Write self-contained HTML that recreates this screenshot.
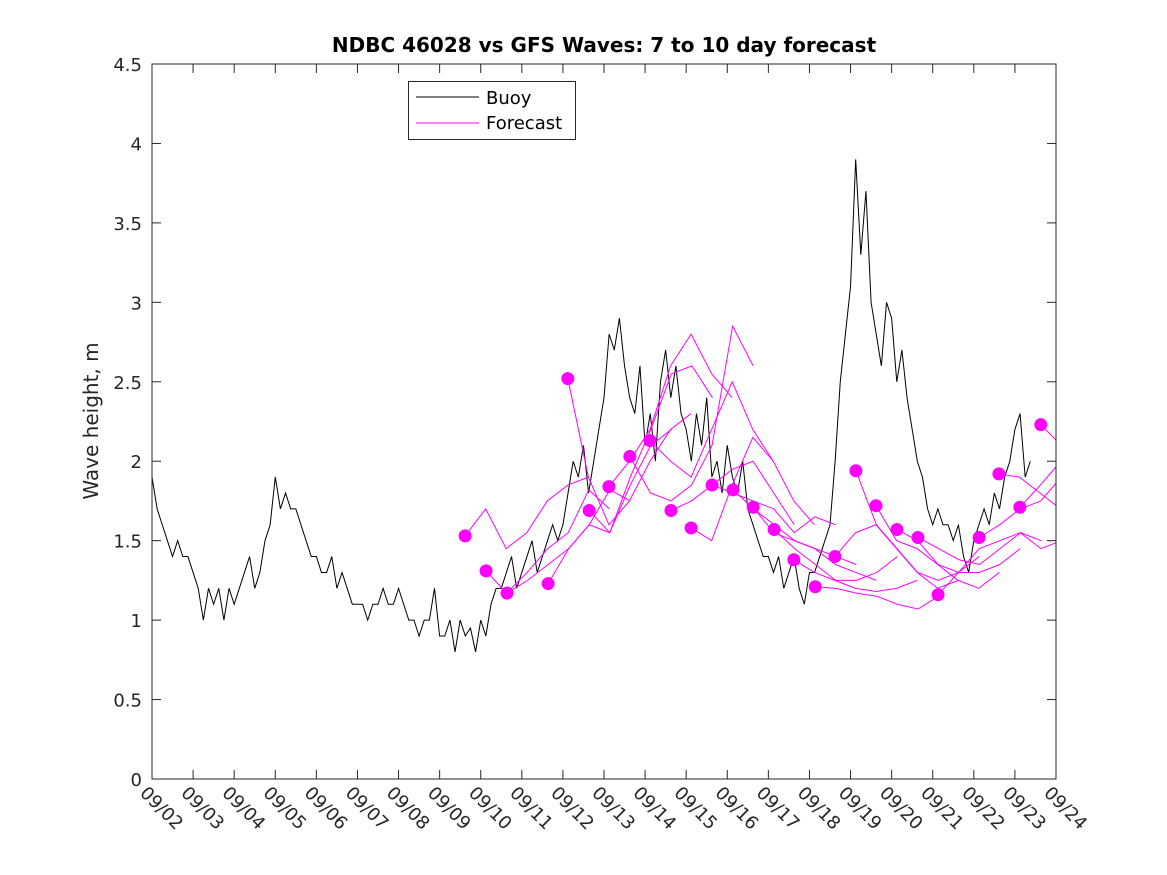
<!DOCTYPE html>
<html><head><meta charset="utf-8">
<style>
html,body{margin:0;padding:0;background:#fff;}
svg{display:block;font-family:"DejaVu Sans","Liberation Sans",sans-serif;}
</style></head>
<body>
<svg id="chart" width="1167" height="875" viewBox="0 0 1167 875" xmlns="http://www.w3.org/2000/svg">
  <rect width="1167" height="875" fill="#fff"/>
  <text x="604" y="52" text-anchor="middle" font-size="20" font-weight="bold" fill="#000">NDBC 46028 vs GFS Waves: 7 to 10 day forecast</text>
  <text transform="translate(98,421) rotate(-90)" text-anchor="middle" font-size="20" fill="#262626">Wave height, m</text>
  <defs><clipPath id="plotclip"><rect x="152" y="64" width="904" height="715"/></clipPath></defs>
  <g id="axes"></g>
  <g id="series" clip-path="url(#plotclip)"></g>
  <rect x="152" y="64" width="904" height="715" fill="none" stroke="#262626" stroke-width="1"/>
  <g>
    <rect x="408.5" y="81.5" width="167" height="58" fill="#fff" stroke="#262626" stroke-width="1"/>
    <line x1="416" y1="97" x2="479" y2="97" stroke="#000" stroke-width="1"/>
    <text x="486" y="104" font-size="18" fill="#000">Buoy</text>
    <line x1="416" y1="123" x2="479" y2="123" stroke="#ff00ff" stroke-width="1"/>
    <text x="486" y="129" font-size="18" fill="#000">Forecast</text>
  </g>
</svg>
<script>
const yTicks = [0,0.5,1,1.5,2,2.5,3,3.5,4,4.5];
const yTickLabels = ["0","0.5","1","1.5","2","2.5","3","3.5","4","4.5"];
const xTickLabels = ["09/02","09/03","09/04","09/05","09/06","09/07","09/08","09/09","09/10","09/11","09/12","09/13","09/14","09/15","09/16","09/17","09/18","09/19","09/20","09/21","09/22","09/23","09/24"];
// buoy: 3-hourly values starting 09/02 00:00
const buoyValues = [
1.9,1.7,1.6,1.5,1.4,1.5,1.4,1.4,
1.3,1.2,1.0,1.2,1.1,1.2,1.0,1.2,
1.1,1.2,1.3,1.4,1.2,1.3,1.5,1.6,
1.9,1.7,1.8,1.7,1.7,1.6,1.5,1.4,
1.4,1.3,1.3,1.4,1.2,1.3,1.2,1.1,
1.1,1.1,1.0,1.1,1.1,1.2,1.1,1.1,
1.2,1.1,1.0,1.0,0.9,1.0,1.0,1.2,
0.9,0.9,1.0,0.8,1.0,0.9,0.95,0.8,
1.0,0.9,1.1,1.2,1.2,1.3,1.4,1.2,
1.3,1.4,1.5,1.3,1.4,1.5,1.6,1.5,
1.6,1.8,2.0,1.9,2.1,1.8,2.0,2.2,
2.4,2.8,2.7,2.9,2.6,2.4,2.3,2.6,
2.1,2.3,2.0,2.5,2.7,2.4,2.6,2.3,
2.2,2.0,2.3,2.1,2.4,1.9,2.0,1.8,
2.1,1.9,1.8,2.0,1.7,1.6,1.5,1.4,
1.4,1.3,1.4,1.2,1.3,1.4,1.2,1.1,
1.3,1.3,1.4,1.5,1.6,2.0,2.5,2.8,
3.1,3.9,3.3,3.7,3.0,2.8,2.6,3.0,
2.9,2.5,2.7,2.4,2.2,2.0,1.9,1.7,
1.6,1.7,1.6,1.6,1.5,1.6,1.4,1.3,
1.5,1.6,1.7,1.6,1.8,1.7,1.9,2.0,
2.2,2.3,1.9,2.0];
// forecast start days (days after 09/02) and values every 12h
const forecastStarts = [7.62,8.13,8.64,9.64,10.12,10.64,11.12,11.63,12.12,12.63,13.12,13.63,14.14,14.63,15.14,15.62,16.14,16.62,17.13,17.62,18.13,18.64,19.13,20.13,20.61,21.12,21.63];
const forecastValues = [
[1.53,1.70,1.45,1.55,1.75,1.85,1.9],
[1.31,1.17,1.30,1.45,1.55,1.82,1.70],
[1.17,1.25,1.35,1.45,1.60,1.82,1.75],
[1.23,1.45,1.60,1.55,1.85,2.1,2.2],
[2.52,1.9,1.6,1.75,2.0,2.2,2.3],
[1.69,1.55,1.9,2.2,2.55,2.6,2.4],
[1.84,2.0,2.2,2.6,2.8,2.55,2.4],
[2.03,1.8,1.75,1.85,2.1,2.85,2.6],
[2.13,2.0,1.9,2.2,2.5,2.2,2.0],
[1.69,1.75,1.85,1.95,2.0,1.8,1.6],
[1.58,1.5,1.85,2.15,2.0,1.75,1.6],
[1.85,1.8,1.75,1.7,1.55,1.65,1.6],
[1.82,1.7,1.6,1.5,1.45,1.40,1.35],
[1.71,1.55,1.5,1.45,1.35,1.3,1.25],
[1.57,1.45,1.35,1.25,1.25,1.30,1.4],
[1.38,1.3,1.25,1.2,1.18,1.2,1.25],
[1.21,1.2,1.17,1.15,1.1,1.07,1.15],
[1.40,1.55,1.6,1.45,1.3,1.2,1.25],
[1.94,1.6,1.45,1.3,1.25,1.3,1.4],
[1.72,1.5,1.45,1.35,1.25,1.2,1.3],
[1.57,1.5,1.35,1.3,1.3,1.35,1.45],
[1.52,1.45,1.38,1.35,1.45,1.55,1.5],
[1.16,1.3,1.45,1.5,1.55,1.45,1.5],
[1.52,1.6,1.7,1.75,1.9,1.85],
[1.92,1.9,1.8,1.7,1.55,1.5],
[1.71,1.85,2.0,2.1],
[2.23,2.1,2.2]];

const NS = "http://www.w3.org/2000/svg";
const X0 = 152, X1 = 1056, Y0 = 779, Y1 = 64;
function xs(d){ return X0 + d*(X1-X0)/22; }
function ys(v){ return Y0 - v*(Y0-Y1)/4.5; }
function mk(tag, attrs, parent){
  const e = document.createElementNS(NS, tag);
  for (const k in attrs) e.setAttribute(k, attrs[k]);
  parent.appendChild(e); return e;
}
const axes = document.getElementById('axes');
const series = document.getElementById('series');

yTicks.forEach((v,i)=>{
  const y = ys(v);
  const t1 = mk('line',{x1:X0,x2:X0+9,y1:y,y2:y,stroke:'#262626'},axes);
  
  
  const t2 = mk('line',{x1:X1-9,x2:X1,y1:y,y2:y,stroke:'#262626'},axes);
  
  
  const tx = mk('text',{x:X0-10,y:y+7,'text-anchor':'end','font-size':18,fill:'#262626'},axes);
  
  
  tx.textContent = yTickLabels[i];
});
xTickLabels.forEach((lab,i)=>{
  const x = xs(i);
  const t1 = mk('line',{x1:x,x2:x,y1:Y0,y2:Y0-9,stroke:'#262626'},axes);
  
  
  const t2 = mk('line',{x1:x,x2:x,y1:Y1,y2:Y1+9,stroke:'#262626'},axes);
  
  
  const tx = mk('text',{transform:`translate(${x-13},${Y0+15}) rotate(45)`,'font-size':18,fill:'#262626'},axes);
  
  
  tx.textContent = lab;
});

// buoy line
const bpts = buoyValues.map((v,i)=>`${xs(i*0.125)},${ys(v)}`).join(' ');
const bl = mk('polyline',{points:bpts,fill:'none',stroke:'#000','stroke-width':1},series);



forecastStarts.forEach((t0,k)=>{
  const vals = forecastValues[k];
  const pts = vals.map((v,j)=>`${xs(t0+j*0.5)},${ys(v)}`).join(' ');
  const pl = mk('polyline',{points:pts,fill:'none',stroke:'#ff00ff','stroke-width':1},series);
  
  
});
forecastStarts.forEach((t0,k)=>{
  const c = mk('circle',{cx:xs(t0),cy:ys(forecastValues[k][0]),r:6.5,fill:'#ff00ff'},series);
  
  
});
</script>
</body></html>
